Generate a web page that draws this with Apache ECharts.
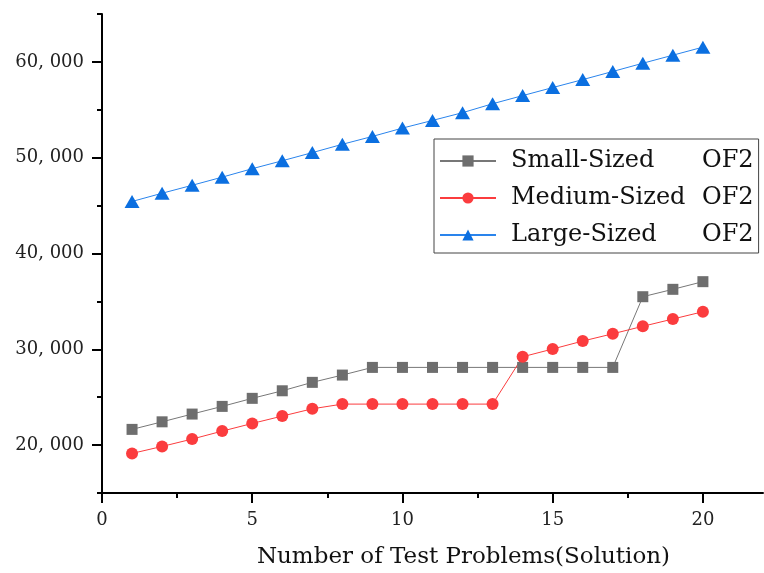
<!DOCTYPE html>
<html>
<head>
<meta charset="utf-8">
<script src="https://cdn.jsdelivr.net/npm/echarts@6/dist/echarts.min.js"></script>
<style>
  html, body { margin: 0; padding: 0; background: #fff; }
  #chart { width: 764px; height: 573px; }
</style>
</head>
<body>
<div id="chart"></div>
<script>
// test problem index (x)
var problems = [1, 2, 3, 4, 5, 6, 7, 8, 9, 10, 11, 12, 13, 14, 15, 16, 17, 18, 19, 20];

// OF2 values
var smallOF2 = [21640, 22430, 23240, 24040, 24880, 25670, 26550, 27310, 28110, 28110,
    28110, 28110, 28110, 28110, 28110, 28110, 28110, 35490, 36260, 37060];
var mediumOF2 = [19130, 19860, 20630, 21460, 22260, 23030, 23790, 24280, 24280, 24280,
    24280, 24280, 24280, 29220, 30030, 30860, 31620, 32400, 33160, 33920];
var largeOF2 = [45430, 46290, 47120, 47970, 48850, 49680, 50530, 51400, 52220, 53090,
    53890, 54700, 55630, 56480, 57320, 58150, 59000, 59860, 60700, 61540];

// ticks
var xMajor = [0, 5, 10, 15, 20];
var xMinor = [2.5, 7.5, 12.5, 17.5];
var yMajor = [20000, 30000, 40000, 50000, 60000];
var yMinor = [15000, 25000, 35000, 45000, 55000, 65000];

function pairs(ys) {
    var arr = [];
    for (var i = 0; i < problems.length; i++) {
        arr.push([problems[i], ys[i]]);
    }
    return arr;
}

var font = 'DejaVu Serif';

var mychart = echarts.init(document.getElementById('chart'));

mychart.setOption({
    animation: false,
    grid: { left: 102, right: 1, top: 14, bottom: 80, containLabel: false, outerBoundsMode: 'none' },

    legend: {
        left: 434,
        top: 139,
        orient: 'vertical',
        padding: [10, 5, 6, 5],
        borderColor: '#444',
        borderWidth: 1,
        itemWidth: 56,
        itemHeight: 14,
        itemGap: 13,
        data: ['Small-Sized', 'Medium-Sized', 'Large-Sized'],
        formatter: function (name) {
            return '{a|' + name + '}{b|OF2}';
        },
        textStyle: {
            fontFamily: font,
            fontSize: 24,
            color: '#111',
            rich: {
                a: { fontFamily: font, fontSize: 24, width: 191, padding: [0, 0, 0, 10], color: '#111' },
                b: { fontFamily: font, fontSize: 24, color: '#111' }
            }
        }
    },

    xAxis: [
        {
            type: 'value',
            min: 0,
            max: 22,
            position: 'bottom',
            splitLine: { show: false },
            axisLine: { lineStyle: { color: '#000', width: 2 } },
            axisTick: { customValues: xMajor, length: 10, lineStyle: { color: '#000', width: 2 } },
            axisLabel: { customValues: xMajor, margin: 18, fontFamily: font, fontSize: 18, color: '#222' },
            name: 'Number of Test Problems(Solution)',
            nameLocation: 'middle',
            nameGap: 53,
            nameTextStyle: { fontFamily: font, fontSize: 23, color: '#111', padding: [0, 0, 0, 62] }
        },
        {
            type: 'value',
            min: 0,
            max: 22,
            position: 'bottom',
            splitLine: { show: false },
            axisLine: { show: false },
            axisTick: { customValues: xMinor, length: 5, lineStyle: { color: '#000', width: 2 } },
            axisLabel: { show: false }
        }
    ],

    yAxis: [
        {
            type: 'value',
            min: 15000,
            max: 65000,
            position: 'left',
            splitLine: { show: false },
            axisLine: { show: true, lineStyle: { color: '#000', width: 2 } },
            axisTick: { show: true, customValues: yMajor, length: 10, lineStyle: { color: '#000', width: 2 } },
            axisLabel: {
                customValues: yMajor,
                margin: 18,
                fontFamily: font,
                fontSize: 18,
                color: '#222',
                formatter: function (v) {
                    return (v / 1000) + ', 000';
                }
            }
        },
        {
            type: 'value',
            min: 15000,
            max: 65000,
            position: 'left',
            splitLine: { show: false },
            axisLine: { show: false },
            axisTick: { show: true, customValues: yMinor, length: 5, lineStyle: { color: '#000', width: 2 } },
            axisLabel: { show: false }
        }
    ],

    series: [
        {
            name: 'Small-Sized',
            type: 'line',
            data: pairs(smallOF2),
            symbol: 'rect',
            symbolSize: 11,
            itemStyle: { color: '#6e6e6e' },
            lineStyle: { color: '#777', width: 1 }
        },
        {
            name: 'Medium-Sized',
            type: 'line',
            data: pairs(mediumOF2),
            symbol: 'circle',
            symbolSize: 12,
            itemStyle: { color: '#fb3c3e' },
            lineStyle: { color: '#fb3c3e', width: 1 }
        },
        {
            name: 'Large-Sized',
            type: 'line',
            data: pairs(largeOF2),
            symbol: 'triangle',
            symbolSize: [15, 13],
            itemStyle: { color: '#0b6fe0' },
            lineStyle: { color: '#2a84ec', width: 1 }
        }
    ]
});
</script>
</body>
</html>
